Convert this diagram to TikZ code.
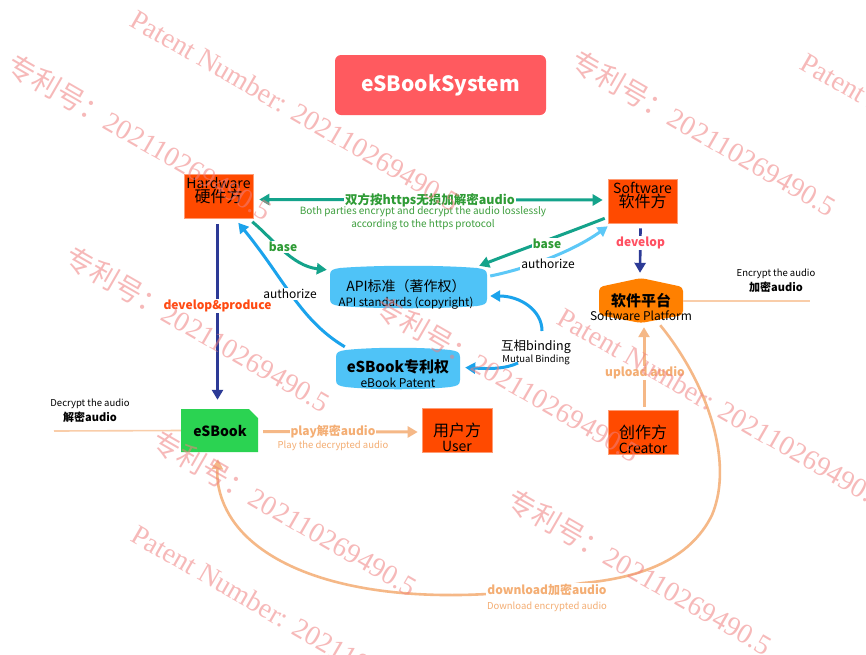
\documentclass[tikz,border=0pt]{standalone}
\usepackage{fontspec}
\setmainfont{Noto Sans CJK SC}
\newfontfamily\wmserif{Liberation Serif}
\usetikzlibrary{arrows.meta,calc}
\definecolor{boxred}{HTML}{FF4A00}
\definecolor{titlered}{HTML}{FF5A5F}
\definecolor{tealc}{HTML}{14A38B}
\definecolor{greent}{HTML}{2E9B35}
\definecolor{greenl}{HTML}{3D9E3D}
\definecolor{bluec}{HTML}{1BA3EC}
\definecolor{lblue}{HTML}{5CC8F7}
\definecolor{cyanf}{HTML}{4FC3F7}
\definecolor{navy}{HTML}{2C3A96}
\definecolor{lorange}{HTML}{F5B887}
\definecolor{lorline}{HTML}{F9CDA9}
\definecolor{lortext}{HTML}{F4AE74}
\definecolor{orangef}{HTML}{FF8000}
\definecolor{greenf}{HTML}{2BD352}
\definecolor{devred}{HTML}{FF5062}
\definecolor{dpred}{HTML}{FF4A12}
\definecolor{wm}{HTML}{F08080}
\newcommand\fsz[2]{\fontsize{#1pt}{#2pt}\selectfont}
\newcommand\bulgebox[5]{%
\pgfmathsetmacro\bxa{#2+10}\pgfmathsetmacro\bxb{#4-10}%
\pgfmathsetmacro\bca{#2+0.3*(#4-#2)}\pgfmathsetmacro\bcb{#4-0.3*(#4-#2)}%
\fill[#1] (#2,#3+7) .. controls (#2,#3+2) and (#2+3,#3+1) .. (\bxa,#3) .. controls (\bca,#3-3) and (\bcb,#3-3) .. (\bxb,#3) .. controls (#4-3,#3+1) and (#4,#3+2) .. (#4,#3+7) -- (#4,#5-7) .. controls (#4,#5-2) and (#4-3,#5-1) .. (\bxb,#5) .. controls (\bcb,#5+3) and (\bca,#5+3) .. (\bxa,#5) .. controls (#2+3,#5-1) and (#2,#5-2) .. (#2,#5-7) -- cycle;}
\tikzset{
  obox/.style={fill=boxred, draw=boxred!55!white, line width=0.6pt, minimum width=69pt, minimum height=44pt, inner sep=0pt},
  hold/.style={inner sep=0pt, draw=none, fill=none},
  txt/.style={inner sep=0pt, align=center},
  lab/.style={fill=white, inner sep=1pt, align=center},
  tip/.style={-{Triangle[length=10pt,width=11pt]}},
  tealarrow/.style={draw=tealc, line width=3pt, tip},
  bluearrow/.style={draw=bluec, line width=3pt, tip},
  lbluearrow/.style={draw=lblue, line width=3pt, tip},
  navyarrow/.style={draw=navy, line width=2.6pt, tip},
  lorarrow/.style={draw=lorange, line width=3pt, tip},
  lorthin/.style={draw=lorline, line width=1.6pt},
  wmk/.style={text=wm, opacity=0.55, rotate=-30, anchor=west, inner sep=0pt, font=\fsz{28}{28}},
}
\begin{document}
\begin{tikzpicture}[x=1pt,y=-1pt]
\useasboundingbox (0,0) rectangle (866,654);
\fill[white] (0,0) rectangle (866,654);
% title
\node[fill=titlered, rounded corners=6pt, minimum width=211pt, minimum height=60pt, inner sep=0pt, text=white, font=\bfseries\fsz{21}{24}] (title) at (440.5,85) {eSBookSystem};
% shapes drawn first
\bulgebox{cyanf}{330}{268}{487}{306}
\bulgebox{cyanf}{336}{350}{460}{387}
\fill[orangef, rounded corners=4pt] (599,287) -- (641,278) -- (683,287) -- (683,315) -- (641,323) -- (599,315) -- cycle;
\fill[greenf] (181,409) -- (249,409) -- (258,418) -- (258,452) -- (181,452) -- cycle;
% placeholder nodes
\node[hold, minimum width=157pt, minimum height=42pt] (api) at (408.5,287) {};
\node[hold, minimum width=124pt, minimum height=41pt] (esp) at (398,368.5) {};
\node[hold, minimum width=84pt, minimum height=45pt] (plat) at (641,300.5) {};
\node[hold, minimum width=77pt, minimum height=43pt] (esb) at (219.5,430.5) {};
% boxes
\node[obox] (hw) at (218.5,196.5) {};
\node[obox] (sw) at (642.5,201) {};
\node[obox, minimum width=70pt] (user) at (457,430) {};
\node[obox, minimum width=70pt] (cr) at (643,432) {};
% texts in boxes
\node[txt, font=\fsz{14}{14.5}] (hwt) at (218.5,190.5) {Hardware\\{\fsz{16}{14.5}硬件方}};
\node[txt, font=\fsz{14}{14.5}] (swt) at (642.5,195.5) {Software\\{\fsz{16}{14.5}软件方}};
\node[txt, font=\fsz{16}{15}] (usert) at (457,437.5) {用户方\\{\fsz{14}{15}User}};
\node[txt, font=\fsz{16}{15}] (crt) at (643,439) {创作方\\{\fsz{14}{15}Creator}};
\node[txt, font=\fsz{14}{15}] (apit) at (406,294) {API标准（著作权）\\{\fsz{11.5}{15}API standards (copyright)}};
\node[txt, font=\bfseries\fsz{15}{15}] (espt) at (398,373.5) {eSBook专利权\\{\mdseries\fsz{12}{15}eBook Patent}};
\node[txt, font=\bfseries\fsz{15}{14}] (platt) at (641,307) {软件平台\\{\mdseries\fsz{12}{14}Software Platform}};
\node[txt, font=\bfseries\fsz{14}{14}] (esbt) at (220,431) {eSBook};
% https double arrow
\draw[tealarrow, {Triangle[length=10pt,width=11pt]}-{Triangle[length=10pt,width=11pt]}] ($(hw.east)+(6,3)$) -- ($(sw.west)+(-5,-1)$);
\node[lab, text=greent, font=\bfseries\fsz{12.5}{14}] (https) at (430,200) {双方按https无损加解密audio};
\node[txt, text=greenl, font=\fsz{10}{13}] (both) at (423,218.5) {Both parties encrypt and decrypt the audio losslessly\\according to the https protocol};
% base hw -> api
\draw[tealarrow] ($(hw.south east)+(-1,3)$) .. controls (272,238) and (292,266) .. ($(api.north west)+(-3,4)$);
\node[lab, text=greent, font=\bfseries\fsz{12}{12}] (base1) at (283,247) {base};
% authorize esp -> hw
\draw[bluearrow] ($(esp.north west)+(9,-1)$) .. controls (300,320) and (285,280) .. ($(hw.south east)+(-15,4)$);
\node[lab, font=\fsz{12}{12}] (auth1) at (290,294) {authorize};
% base sw -> api
\draw[tealarrow] ($(sw.south west)+(-3,-5)$) .. controls (570,232) and (520,250) .. ($(api.north east)+(-8,0)$);
\node[lab, text=greent, font=\bfseries\fsz{12}{12}] (base2) at (547,244) {base};
% authorize api -> sw
\draw[lbluearrow] ($(api.east)+(3,-11)$) .. controls (530,268) and (575,250) .. ($(sw.south west)+(0,3)$);
\node[lab, font=\fsz{12}{12}] (auth2) at (548,264) {authorize};
% mutual binding
\node[txt, font=\fsz{12.5}{12}] (mb) at (536,352) {互相binding\\{\fsz{9.5}{12}Mutual Binding}};
\draw[bluearrow] ($(mb.center)+(6,-21)$) .. controls (542,310) and (520,296) .. ($(api.east)+(3,9)$);
\draw[bluearrow] ($(mb.center)+(-18,11)$) .. controls (505,369) and (490,369) .. ($(esp.east)+(5,-1)$);
% develop & produce
\draw[navyarrow] ($(hw.south)+(-1,5)$) -- ($(esb.north)+(-2,-9)$);
\node[lab, text=dpred, font=\bfseries\fsz{12}{12}] (dp) at (217.5,306) {develop\&produce};
% develop
\draw[navyarrow] ($(sw.south)+(-2,5)$) -- ($(plat.north)+(-1,-5)$);
\node[lab, text=devred, font=\bfseries\fsz{12}{12}] (dev) at (640.5,243) {develop};
% encrypt line
\coordinate (encend) at (810,301);
\draw[lorthin] ($(plat.east)+(0,0.5)$) -- (encend);
\node[txt, font=\fsz{9.5}{15}] (enc) at (776,281) {Encrypt the audio\\{\bfseries\fsz{11}{15}加密audio}};
% decrypt line
\coordinate (decstart) at (54,431);
\draw[lorthin] (decstart) -- (esb.west);
\node[txt, font=\fsz{9.5}{15}] (dec) at (90,411) {Decrypt the audio\\{\bfseries\fsz{11}{15}解密audio}};
% upload
\draw[lorarrow] ($(cr.north)+(1,-3)$) -- ($(plat.south)+(3,4)$);
\node[lab, text=lortext, font=\bfseries\fsz{12}{12}] (upl) at (645,373) {upload audio};
% play
\draw[lorarrow] ($(esb.east)+(5,1)$) -- ($(user.west)+(-4,2)$);
\node[lab, text=lortext, font=\bfseries\fsz{12}{12}] (play) at (333,432) {play解密audio};
\node[txt, text=lortext, font=\fsz{9.5}{10}] (playen) at (333,446) {Play the decrypted audio};
% download arc
\draw[lorarrow, line width=2.6pt] ($(plat.south east)+(-23,2)$) .. controls (705,380) and (735,460) .. (712,515) .. controls (690,560) and (640,578) .. (583,583) .. controls (550,588) and (520,592) .. (487,594) .. controls (380,600) and (290,580) .. (245,535) .. controls (225,515) and (216,490) .. ($(esb.south)+(-1.5,7)$);
\node[lab, text=lortext, font=\bfseries\fsz{12}{12}] (dl) at (547,590) {download加密audio};
\node[txt, text=lortext, font=\fsz{9.5}{10}] (dlen) at (547,607) {Download encrypted audio};
% watermarks
\node[wmk] (w1) at (133,17) {\wmserif Patent Number: 202110269490.5};
\node[wmk] (w2) at (10,62) {专利号：\wmserif 202110269490.5};
\node[wmk] (w3) at (574,58) {专利号：\wmserif 202110269490.5};
\node[wmk] (w4) at (803,60) {\wmserif Patent Number: 202110269490.5};
\node[wmk] (w5) at (68,254) {专利号：\wmserif 202110269490.5};
\node[wmk] (w6) at (378,304) {专利号：\wmserif 202110269490.5};
\node[wmk] (w7) at (560,315) {\wmserif Patent Number: 202110269490.5};
\node[wmk] (w8) at (155,438) {专利号：\wmserif 202110269490.5};
\node[wmk] (w9) at (134,532) {\wmserif Patent Number: 202110269490.5};
\node[wmk] (w10) at (510,497) {专利号：\wmserif 202110269490.5};
\end{tikzpicture}
\end{document}
